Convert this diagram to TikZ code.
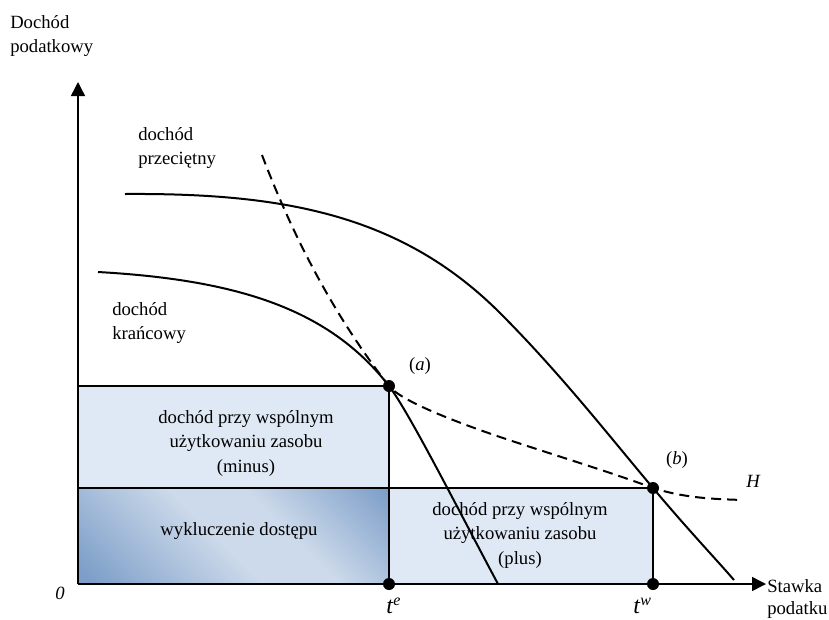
\documentclass[tikz,border=0pt]{standalone}
\usepackage{fontspec}
\setmainfont{Liberation Serif}
\usetikzlibrary{arrows.meta}
\definecolor{boxblue}{RGB}{223,233,245}
\definecolor{gdark}{RGB}{124,158,200}
\definecolor{glight}{RGB}{205,218,235}
\pgfdeclarehorizontalshading{wyksh}{100bp}{color(0bp)=(gdark); color(17bp)=(gdark); color(47bp)=(glight); color(60bp)=(glight); color(85bp)=(gdark); color(100bp)=(gdark)}
\begin{document}
\begin{tikzpicture}[x=0.75pt,y=-0.75pt,
  lbl/.style={font=\fontsize{14}{18.4}\selectfont, inner sep=0pt},
  curve/.style={line width=1.5pt, line join=round},
  hcurve/.style={line width=1.5pt, dash pattern=on 7.5pt off 4.5pt},
  axis/.style={line width=1.1pt, -{Triangle[length=10.5pt,width=10.5pt]}},
  edge/.style={line width=0.8pt},
  dot/.style={circle, fill=black, inner sep=0pt, minimum size=9pt}]
\useasboundingbox (0,0) rectangle (829,619);

\coordinate (O) at (78,584);
\coordinate (Ytip) at (78,82);
\coordinate (Xtip) at (766,584);
\coordinate (pa) at (389,386);
\coordinate (pb) at (653,488);
\coordinate (te) at (389,584);
\coordinate (tw) at (653,584);
\coordinate (la) at (78,386);
\coordinate (lm) at (78,488);

% boxes
\fill[boxblue] (la) rectangle (389,488);
\shade[shading=wyksh, shading angle=45] (lm) rectangle (te);
\fill[boxblue] (389,488) rectangle (tw);

\draw[edge] (la) -- (pa) -- (te);
\draw[edge] (lm) -- (pb) -- (tw);

% curves
\draw[curve] (125,194) .. controls (280,193) and (400,213) .. (500,313)
  .. controls (560,373) and (610,437) .. (pb)
  .. controls (690,532) and (715,558) .. (734,580);
\draw[curve] (98,272) .. controls (240,280) and (330,310) .. (pa)
  .. controls (409,412) and (460,513) .. (498,584);
\draw[hcurve] (262,155) .. controls (300,255) and (345,330) .. (pa)
  .. controls (400,400) and (450,420) .. (500,437)
  .. controls (560,457) and (610,472) .. (pb)
  .. controls (685,498) and (712,499) .. (743,500);

% axes
\draw[axis] (O) -- (Ytip);
\draw[axis] (O) -- (Xtip);

% dots
\node[dot] (A) at (pa) {};
\node[dot] (B) at (pb) {};
\node[dot] (TE) at (te) {};
\node[dot] (TW) at (tw) {};

% labels
\node[lbl, anchor=north west, align=left] (ylab) at (10,15) {Dochód\\podatkowy};
\node[lbl, anchor=north west, align=left, font=\fontsize{14}{16.6}\selectfont] (xlab) at (767,579) {Stawka\\podatku};
\node[lbl, anchor=base west] (zero) at (55,599) {\textit{0}};
\node[lbl, anchor=north west, align=left] (avg) at (138,127) {dochód\\przeciętny};
\node[lbl, anchor=north west, align=left] (marg) at (112,302) {dochód\\krańcowy};
\node[lbl, anchor=north, align=center] (minus) at (246,410) {dochód przy wspólnym\\użytkowaniu zasobu\\(minus)};
\node[lbl, anchor=north, align=center] (plus) at (520,502) {dochód przy wspólnym\\użytkowaniu zasobu\\(plus)};
\node[lbl, anchor=north] (excl) at (239,522) {wykluczenie dostępu};
\node[lbl, anchor=base] (alab) at (420,370) {(\textit{a})};
\node[lbl, anchor=base] (blab) at (677,464) {(\textit{b})};
\node[lbl, anchor=base west] (hlab) at (746,487) {\textit{H}};
\node[lbl, anchor=base west, font=\fontsize{18}{20}\selectfont] (telab) at (386,613) {\textit{t}\raisebox{5.3pt}{\fontsize{12}{14}\selectfont\textit{e}}};
\node[lbl, anchor=base west, font=\fontsize{18}{20}\selectfont] (twlab) at (633,613) {\textit{t}\raisebox{5.3pt}{\fontsize{12}{14}\selectfont\textit{w}}};
\end{tikzpicture}
\end{document}
